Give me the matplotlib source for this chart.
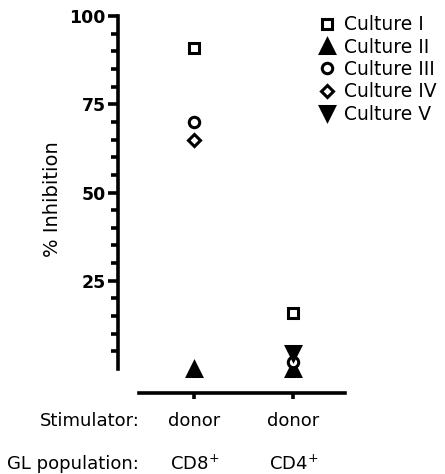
import matplotlib.pyplot as plt
import numpy as np
from matplotlib.transforms import blended_transform_factory

# data
populations = ["CD8$^{+}$", "CD4$^{+}$"]
stimulators = ["donor", "donor"]
cultures = ["Culture I", "Culture II", "Culture III", "Culture IV", "Culture V"]
culture_1 = [91, 16]
culture_2 = [0, 0]
culture_3 = [70, 2]
culture_4 = [65, np.nan]
culture_5 = [np.nan, 4.5]

series = [culture_1, culture_2, culture_3, culture_4, culture_5]
markers = ["s", "^", "o", "D", "v"]
filled = [False, True, False, False, True]
msizes = [7.5, 9.5, 7.5, 6.5, 9.5]

fig = plt.figure(figsize=(4.45, 4.74), dpi=100)
ax = fig.add_axes([0.2652, 0.2215, 0.527, 0.7447])

x = np.array([1, 2])
handles = []
for vals, lab, m, f, ms in zip(series, cultures, markers, filled, msizes):
    h, = ax.plot(x, vals, linestyle="none", marker=m, markersize=ms,
                 markerfacecolor="black" if f else "white",
                 markeredgecolor="black", markeredgewidth=2.2,
                 label=lab, clip_on=False, zorder=3)
    handles.append(h)

ax.set_xlim(0.23, 2.6)
ax.set_ylim(0, 100)
ax.set_yticks([25, 50, 75, 100])
ax.set_yticks(np.arange(5, 100, 5), minor=True)
ax.set_yticklabels(["25", "50", "75", "100"], fontweight="bold", fontsize=12.5)
ax.tick_params(axis="y", which="major", length=7, width=2.6, pad=2)
ax.tick_params(axis="y", which="minor", length=5, width=2.6)
ax.set_xticks(x)
ax.set_xticklabels([])
ax.tick_params(axis="x", which="major", length=4, width=2.6)

for s in ["top", "right"]:
    ax.spines[s].set_visible(False)
ax.spines["left"].set_linewidth(2.6)
ax.spines["bottom"].set_linewidth(2.6)
ax.spines["bottom"].set_position(("outward", 17))
ax.spines["bottom"].set_bounds(0.44, 2.52)

ax.set_ylabel("% Inhibition", fontsize=14)
ax.yaxis.set_label_coords(-0.24, 0.48)

tr = blended_transform_factory(ax.transData, ax.transAxes)
for xi, s, p in zip(x, stimulators, populations):
    ax.text(xi, -0.147, s, transform=tr, ha="center", va="center", fontsize=13)
    ax.text(xi, -0.269, p, transform=tr, ha="center", va="center", fontsize=13)
ax.text(0.445, -0.147, "Stimulator:", transform=tr, ha="right", va="center", fontsize=13)
ax.text(0.445, -0.269, "GL population:", transform=tr, ha="right", va="center", fontsize=13)

ax.legend(handles=handles, loc="upper left", bbox_to_anchor=(0.719, 0.968),
          bbox_transform=fig.transFigure, frameon=False, fontsize=13.5,
          handlelength=0.8, handletextpad=0.5, labelspacing=0.18,
          borderaxespad=0, borderpad=0, markerscale=1.0)

fig.savefig("out.png", dpi=100)
